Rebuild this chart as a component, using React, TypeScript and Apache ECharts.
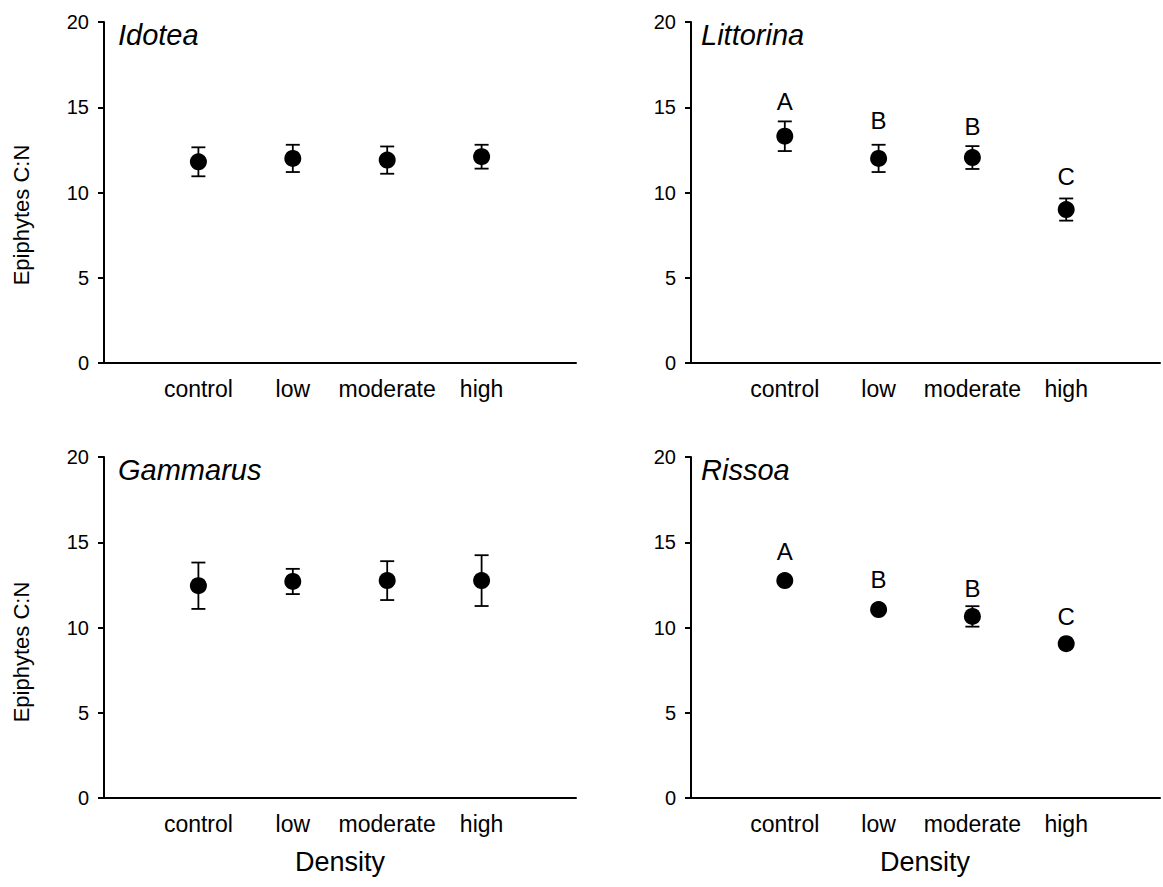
import React, { useEffect, useRef } from "react";
import * as echarts from "echarts";

const categories = ["control", "low", "moderate", "high"];
const panelTitles = ["Idotea", "Littorina", "Gammarus", "Rissoa"];

const idoteaMean = [11.8, 12.0, 11.9, 12.1];
const idoteaErr = [0.85, 0.8, 0.8, 0.7];

const littorinaMean = [13.3, 12.0, 12.05, 9.0];
const littorinaErr = [0.87, 0.8, 0.67, 0.65];
const littorinaLetters = ["A", "B", "B", "C"];
const littorinaLetterY = [15.35, 14.25, 13.9, 10.95];

const gammarusMean = [12.45, 12.7, 12.75, 12.75];
const gammarusErr = [1.36, 0.74, 1.14, 1.49];

const rissoaMean = [12.75, 11.05, 10.65, 9.05];
const rissoaErr = [0.15, 0.15, 0.6, 0.15];
const rissoaLetters = ["A", "B", "B", "C"];
const rissoaLetterY = [14.45, 12.8, 12.3, 10.65];

const yTicks = [0, 5, 10, 15, 20];

const FONT = "Liberation Sans, Arial, Helvetica, sans-serif";

export default function App() {
  const ref = useRef<HTMLDivElement>(null);

  useEffect(() => {
    if (!ref.current) return;
    const chart = echarts.init(ref.current, null, { renderer: "svg" });

    const grids = [
      { left: 104, top: 22, width: 472, height: 341 },
      { left: 691, top: 22, width: 472, height: 341 },
      { left: 104, top: 457, width: 472, height: 341 },
      { left: 691, top: 457, width: 472, height: 341 },
    ];

    const panels = [
      { mean: idoteaMean, err: idoteaErr, letters: null as string[] | null, letterY: null as number[] | null },
      { mean: littorinaMean, err: littorinaErr, letters: littorinaLetters, letterY: littorinaLetterY },
      { mean: gammarusMean, err: gammarusErr, letters: null, letterY: null },
      { mean: rissoaMean, err: rissoaErr, letters: rissoaLetters, letterY: rissoaLetterY },
    ];

    const xAxes = grids.map((_, i) => ({
      type: "value",
      gridIndex: i,
      min: 0,
      max: 5,
      interval: 1,
      axisLine: { show: true, lineStyle: { color: "#000", width: 2 } },
      axisTick: { show: false },
      splitLine: { show: false },
      axisLabel: {
        color: "#000",
        fontSize: 23,
        fontFamily: FONT,
        margin: 14,
        formatter: (v: number) => categories[v - 1] ?? "",
      },
    }));

    const yAxes = grids.map((_, i) => ({
      type: "value",
      gridIndex: i,
      min: yTicks[0],
      max: yTicks[yTicks.length - 1],
      interval: 5,
      axisLine: { show: true, lineStyle: { color: "#000", width: 2 } },
      axisTick: { show: true, inside: false, length: 6, lineStyle: { color: "#000", width: 2 } },
      splitLine: { show: false },
      axisLabel: { color: "#000", fontSize: 20, fontFamily: FONT, margin: 15 },
    }));

    const series: any[] = [];
    panels.forEach((p, i) => {
      const errData = p.mean.map((m, k) => [k + 1, m - p.err[k], m + p.err[k]]);
      series.push({
        type: "custom",
        xAxisIndex: i,
        yAxisIndex: i,
        z: 2,
        renderItem: (params: any, api: any) => {
          const x = api.value(0);
          const lo = api.coord([x, api.value(1)]);
          const hi = api.coord([x, api.value(2)]);
          const cap = 7;
          const style = { stroke: "#000", lineWidth: 1.8 };
          return {
            type: "group",
            children: [
              { type: "line", shape: { x1: lo[0], y1: lo[1], x2: hi[0], y2: hi[1] }, style },
              { type: "line", shape: { x1: lo[0] - cap, y1: lo[1], x2: lo[0] + cap, y2: lo[1] }, style },
              { type: "line", shape: { x1: hi[0] - cap, y1: hi[1], x2: hi[0] + cap, y2: hi[1] }, style },
            ],
          };
        },
        data: errData,
      });
      series.push({
        type: "scatter",
        xAxisIndex: i,
        yAxisIndex: i,
        z: 3,
        symbol: "circle",
        symbolSize: 17,
        itemStyle: { color: "#000", opacity: 1 },
        data: p.mean.map((m, k) => [k + 1, m]),
      });
      if (p.letters && p.letterY) {
        const letters = p.letters;
        series.push({
          type: "scatter",
          xAxisIndex: i,
          yAxisIndex: i,
          z: 4,
          symbolSize: 0,
          silent: true,
          itemStyle: { opacity: 1 },
          label: {
            show: true,
            position: "inside",
            color: "#000",
            fontSize: 24,
            fontFamily: FONT,
            formatter: (prm: any) => letters[prm.dataIndex],
          },
          data: p.letterY.map((y, k) => [k + 1, y]),
        });
      }
    });

    const titleStyle = { fill: "#000", fontSize: 29, fontStyle: "italic", fontFamily: FONT };
    const ylabelStyle = { fill: "#000", fontSize: 22, fontFamily: FONT, align: "center", verticalAlign: "middle" };
    const xnameStyle = { fill: "#000", fontSize: 27, fontFamily: FONT, align: "center", verticalAlign: "middle" };

    const graphic: any[] = [
      { type: "text", left: 118, top: 20, style: { ...titleStyle, text: panelTitles[0] } },
      { type: "text", left: 701, top: 20, style: { ...titleStyle, text: panelTitles[1] } },
      { type: "text", left: 118, top: 455, style: { ...titleStyle, text: panelTitles[2] } },
      { type: "text", left: 701, top: 455, style: { ...titleStyle, text: panelTitles[3] } },
      { type: "text", x: 21, y: 215, rotation: Math.PI / 2, style: { ...ylabelStyle, text: "Epiphytes C:N" } },
      { type: "text", x: 21, y: 652, rotation: Math.PI / 2, style: { ...ylabelStyle, text: "Epiphytes C:N" } },
      { type: "text", x: 340, y: 862, style: { ...xnameStyle, text: "Density" } },
      { type: "text", x: 925, y: 862, style: { ...xnameStyle, text: "Density" } },
    ];

    chart.setOption({
      animation: false,
      backgroundColor: "#fff",
      grid: grids,
      xAxis: xAxes,
      yAxis: yAxes,
      series,
      graphic,
    });

    return () => chart.dispose();
  }, []);

  return (
    <div
      ref={ref}
      style={{ position: "absolute", left: 0, top: 0, width: 1163, height: 887 }}
    />
  );
}
